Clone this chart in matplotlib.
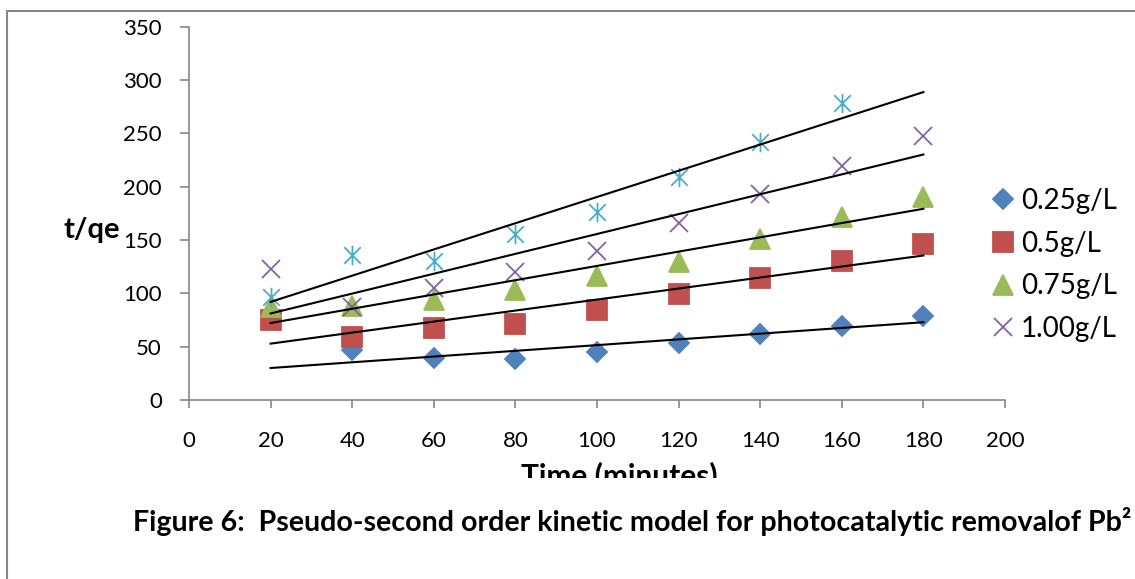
import numpy as np
import matplotlib.pyplot as plt
from matplotlib.path import Path
from matplotlib.lines import Line2D
from matplotlib.transforms import Bbox, TransformedBbox

plt.rcParams['font.family'] = ['Lato', 'DejaVu Sans']

# time in minutes, t/qe for each catalyst dose
time = [20, 40, 60, 80, 100, 120, 140, 160, 180]
qe_025 = [np.nan, 47, 39.7, 38.4, 44.7, 53.2, 61.6, 69.7, 78.8]
qe_05 = [75, 59.3, 67.8, 71, 84.4, 99.1, 114.1, 130.3, 146.5]
qe_075 = [87.5, 88.1, 94, 103.1, 116, 129.7, 150.7, 171.8, 190.6]
qe_100 = [122.5, 87.5, 104.7, 120.3, 140, 166.2, 192.8, 219.4, 247.5]
# fifth series, its legend entry is cut off in the original
qe_extra = [96.3, 135.9, 130.3, 155.6, 176, 209.3, 242.2, 278.7, np.nan]

labels = ["0.25g/L", "0.5g/L", "0.75g/L", "1.00g/L", None]
colors = ["#4F81BD", "#C0504D", "#9BBB59", "#8064A2", "#4BACC6"]

# excel style asterisk: an x with a vertical bar
star = Path([(-0.85, -0.85), (0.85, 0.85), (-0.85, 0.85), (0.85, -0.85), (0, -1), (0, 1)],
            [Path.MOVETO, Path.LINETO, Path.MOVETO, Path.LINETO, Path.MOVETO, Path.LINETO])
markers = ["D", "s", "^", "x", star]
sizes = [10, 14, 14.5, 13.5, 14]

fig = plt.figure(figsize=(11.35, 5.79), dpi=100)
ax = fig.add_axes([189 / 1135, 1 - 400 / 579, 816 / 1135, 373.3 / 579])

series = [qe_025, qe_05, qe_075, qe_100, qe_extra]
handles = []
x = np.array(time, dtype=float)
for y, lab, c, m, ms in zip(series, labels, colors, markers, sizes):
    y = np.array(y, dtype=float)
    ok = ~np.isnan(y)
    h, = ax.plot(x[ok], y[ok], linestyle="none", marker=m, markersize=ms,
                 color=c, markeredgecolor=c, markeredgewidth=1.3, zorder=2)
    if lab:
        h.set_label(lab)
        handles.append(h)
    # linear trendline over the whole time range
    fit = np.polyfit(x[ok], y[ok], 1)
    xs = np.array([x[0], x[-1]])
    ax.plot(xs, np.polyval(fit, xs), color="black", linewidth=1.5, zorder=3)

ax.set_xlim(0, 200)
ax.set_ylim(0, 350)
ax.set_xticks(range(0, 201, 20))
ax.set_yticks(range(0, 351, 50))
for s in ["top", "right"]:
    ax.spines[s].set_visible(False)
for s in ["left", "bottom"]:
    ax.spines[s].set_color("#868686")
    ax.spines[s].set_linewidth(1.2)
ax.tick_params(axis="x", direction="out", length=6, width=1.2, color="#868686",
               labelsize=16, pad=16)
ax.tick_params(axis="y", direction="out", length=6.5, width=1.2, color="#868686",
               labelsize=16, pad=13)

ax.legend(handles=handles, loc="center left", bbox_to_anchor=(992 / 1135, 1 - 265 / 579),
          bbox_transform=fig.transFigure, frameon=False, fontsize=20, numpoints=1,
          handlelength=0.8, handletextpad=0.25, labelspacing=0.6, borderpad=0,
          borderaxespad=0)

fig.text(63 / 1135, 1 - 230 / 579, "t/qe", fontsize=21, fontweight="bold",
         ha="left", va="center")

# axis title is cut off at the bottom of the chart area
xl = fig.text(619 / 1135, 1 - 461 / 579, "Time (minutes)", fontsize=21.5,
              fontweight="bold", ha="center", va="top")
xl.set_clip_box(TransformedBbox(Bbox.from_extents(0, 1 - 478 / 579, 1, 1), fig.transFigure))
xl.set_clip_on(True)

# caption runs past the right edge, as in the original crop
fig.text(133 / 1135, 1 - 531 / 579, "Figure 6:  Pseudo-second order kinetic model for "
         "photocatalytic removalof Pb²", fontsize=20.6, fontweight="bold",
         ha="left", va="baseline")

# chart border, cropped on the right and at the bottom
fig.add_artist(Line2D([7 / 1135, 7 / 1135, 1.01], [0, 1 - 11 / 579, 1 - 11 / 579],
                      transform=fig.transFigure, color="#868686", linewidth=1.5))

fig.savefig("out.png", dpi=100)
